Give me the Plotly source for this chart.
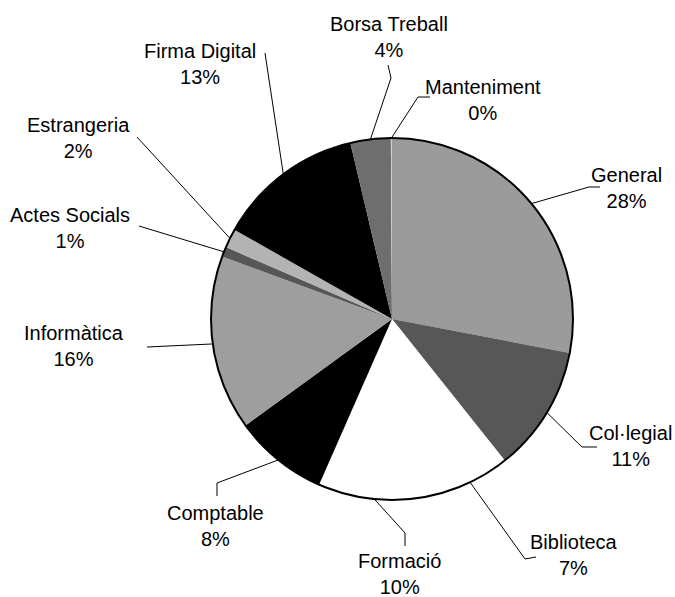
import math
import plotly.graph_objects as go

# ---- data ----
labels = ["General", "Col·legial", "Biblioteca", "Formació", "Comptable",
          "Informàtica", "Actes Socials", "Estrangeria", "Firma Digital",
          "Borsa Treball", "Manteniment"]
values = [28.0, 11.3, 7.2, 10.1, 8.4, 15.6, 0.9, 1.7, 13.1, 3.6, 0.1]

# ---- styles ----
colors = ["#9b9b9b", "#575757", "#ffffff", "#ffffff", "#000000",
          "#9e9e9e", "#575757", "#b3b3b3", "#000000", "#6e6e6e", "#cccccc"]

W, H = 675, 597
CX, CY, R = 392, 319, 181

# label block centres (px) and leader waypoints (from the text side toward the pie)
label_pos = [(626, 188), (630, 446), (574, 555), (399, 574), (215, 526),
             (74, 346), (70, 228), (78, 138), (200, 64), (389, 37), (483, 100)]
leader_pts = [
    [(600, 187), (589, 187)],
    [(597, 447), (582, 447)],
    [(536, 557), (525, 559)],
    [(405, 546), (405, 533)],
    [(217, 496), (217, 483)],
    [(147, 347)],
    [(139, 226)],
    [(137, 137)],
    [(265, 53)],
    [(388, 65), (391, 78)],
    [(430, 97), (418, 97)],
]


def px(x):
    return x / W


def py(y):
    return 1 - y / H


fig = go.Figure()
fig.add_trace(go.Pie(
    labels=labels, values=values, sort=False, direction="clockwise", rotation=0,
    marker=dict(colors=colors, line=dict(width=0)),
    textinfo="none", hoverinfo="label+percent", showlegend=False,
    domain=dict(x=[px(CX - R), px(CX + R)], y=[py(CY + R), py(CY - R)]),
))

total = sum(values)
shapes = []
annotations = []
cum = 0.0
for lab, v, pos, pts in zip(labels, values, label_pos, leader_pts):
    mid = (cum + v / 2) / total * 2 * math.pi
    cum += v
    ax = CX + R * math.sin(mid)
    ay = CY - R * math.cos(mid)
    allp = list(pts) + [(ax, ay)]
    path = "M " + " L ".join(f"{px(x):.5f},{py(y):.5f}" for x, y in allp)
    shapes.append(dict(type="path", xref="paper", yref="paper", path=path,
                       line=dict(color="black", width=1)))
    pct = int(math.floor(v / total * 100 + 0.5))
    annotations.append(dict(x=px(pos[0]), y=py(pos[1]), xref="paper", yref="paper",
                            text=f"{lab}<br>{pct}%", showarrow=False,
                            xanchor="center", yanchor="middle", align="center",
                            font=dict(family="Liberation Sans, Arial", size=20, color="black")))

# outer border of the pie
shapes.append(dict(type="circle", xref="paper", yref="paper",
                   x0=px(CX - R), x1=px(CX + R), y0=py(CY + R), y1=py(CY - R),
                   line=dict(color="black", width=2)))

fig.update_layout(width=W, height=H, margin=dict(l=0, r=0, t=0, b=0),
                  paper_bgcolor="white", plot_bgcolor="white",
                  shapes=shapes, annotations=annotations)
fig.write_html("out.html", config={"displayModeBar": False},
               post_script="document.body.style.margin='0';document.body.style.overflow='hidden';")
